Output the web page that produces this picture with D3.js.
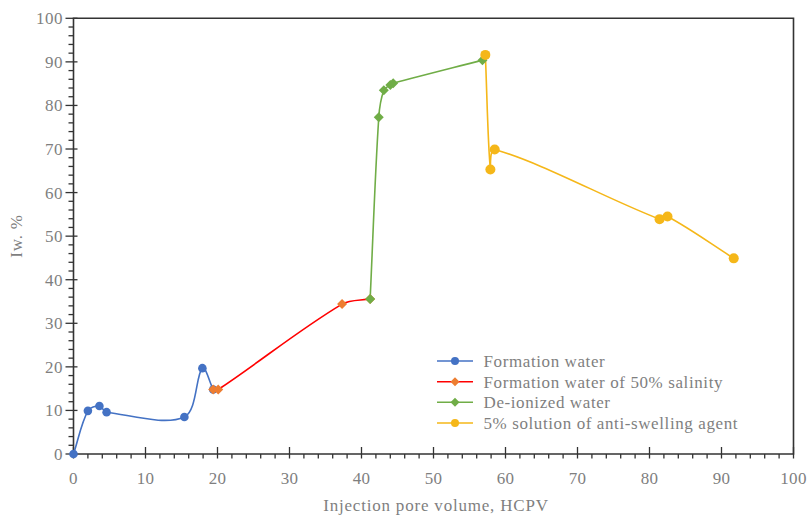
<!DOCTYPE html>
<html>
<head>
<meta charset="utf-8">
<script src="https://cdn.jsdelivr.net/npm/d3@7/dist/d3.min.js"></script>
<style>
  html, body { margin: 0; padding: 0; background: #fff; }
</style>
</head>
<body>
<svg id="chart" width="809" height="516" font-family="'Times New Roman', 'Liberation Serif', Tinos, 'DejaVu Serif', serif"></svg>
<script>
// ---- Data ----
const formationX = [0, 2.0, 3.6, 4.6, 15.4, 17.9, 19.4];
const formationY = [0, 9.9, 11.0, 9.6, 8.5, 19.7, 14.8];

const salinityX = [19.4, 20.1, 37.3, 41.2];
const salinityY = [14.8, 14.8, 34.4, 35.6];

const deionizedX = [41.2, 42.4, 43.1, 44.0, 44.4, 56.8];
const deionizedY = [35.6, 77.3, 83.5, 84.7, 85.1, 90.4];

const antiSwellX = [57.2, 57.9, 58.5, 81.4, 82.5, 91.7];
const antiSwellY = [91.6, 65.3, 69.9, 53.9, 54.5, 44.9];

const seriesNames = ["Formation water", "Formation water of 50% salinity", "De-ionized water", "5% solution of anti-swelling agent"];
const xTicks = [0, 10, 20, 30, 40, 50, 60, 70, 80, 90, 100];
const yTicks = [0, 10, 20, 30, 40, 50, 60, 70, 80, 90, 100];
const xTitle = "Injection pore volume, HCPV";
const yTitle = "Iw. %";

(function () {
const series = [
  { name: seriesNames[0], xs: formationX, ys: formationY, line: "#4472C4", marker: "#4472C4", shape: "circle", r: 4.3 },
  { name: seriesNames[1], xs: salinityX, ys: salinityY, line: "#FF0000", marker: "#ED7D31", shape: "diamond", r: 5 },
  { name: seriesNames[2], xs: deionizedX, ys: deionizedY, line: "#70AD47", marker: "#70AD47", shape: "diamond", r: 5 },
  { name: seriesNames[3], xs: antiSwellX, ys: antiSwellY, line: "#F5B719", marker: "#F5B719", shape: "circle", r: 5 }
];

const svg = d3.select("#chart");
const pL = 73.5, pR = 793.5, pT = 18.3, pB = 454;
const x = d3.scaleLinear().domain([0, 100]).range([pL, pR]);
const y = d3.scaleLinear().domain([0, 100]).range([pB, pT]);

const axisColor = "#333";
const textColor = "#7f7f7f";

const minor = d3.range(0, 101, 2).filter(v => v % 10 !== 0);

// Y axis
const gy = svg.append("g");
gy.selectAll("line.minor").data(minor).join("line").attr("class", "minor")
  .attr("x1", pL - 5).attr("x2", pL)
  .attr("y1", d => y(d)).attr("y2", d => y(d))
  .attr("stroke", axisColor).attr("stroke-width", 1.3);
gy.selectAll("line.major").data(yTicks).join("line").attr("class", "major")
  .attr("x1", pL - 8).attr("x2", pL + 4)
  .attr("y1", d => y(d)).attr("y2", d => y(d))
  .attr("stroke", axisColor).attr("stroke-width", 1.3);
gy.selectAll("text").data(yTicks).join("text")
  .attr("x", pL - 10.5).attr("y", d => y(d)).attr("dy", "0.35em")
  .attr("text-anchor", "end").attr("fill", textColor)
  .style("font-size", "17px").style("letter-spacing", "0.5px")
  .text(d => d);

// X axis
const gx = svg.append("g");
gx.selectAll("line.minor").data(minor).join("line").attr("class", "minor")
  .attr("x1", d => x(d)).attr("x2", d => x(d))
  .attr("y1", pB).attr("y2", pB + 4.5)
  .attr("stroke", axisColor).attr("stroke-width", 1.3);
gx.selectAll("line.major").data(xTicks).join("line").attr("class", "major")
  .attr("x1", d => x(d)).attr("x2", d => x(d))
  .attr("y1", pB - 7).attr("y2", pB + 4.5)
  .attr("stroke", axisColor).attr("stroke-width", 1.3);
gx.selectAll("text").data(xTicks).join("text")
  .attr("x", d => x(d)).attr("y", 484)
  .attr("text-anchor", "middle").attr("fill", textColor)
  .style("font-size", "17px").style("letter-spacing", "0.3px")
  .text(d => d);

// frame
svg.append("path")
  .attr("d", `M${pL},${pB}L${pL},${pT}L${pR},${pT}L${pR},${pB}Z`)
  .attr("fill", "none").attr("stroke", axisColor).attr("stroke-width", 1.6);

// titles
svg.append("text").attr("x", 436).attr("y", 511)
  .attr("text-anchor", "middle").attr("fill", textColor)
  .style("font-size", "17px").style("letter-spacing", "0.8px")
  .text(xTitle);
svg.append("text").attr("transform", `translate(22,236) rotate(-90)`)
  .attr("text-anchor", "middle").attr("fill", textColor)
  .style("font-size", "17px").style("letter-spacing", "0.8px")
  .text(yTitle);

// Excel-like smoothed line: Bezier segments with tangents scaled by neighbouring chord lengths
function smoothPath(pts) {
  const p = d3.path();
  const n = pts.length;
  if (!n) return "";
  const dist = (a, b) => Math.hypot(b[0] - a[0], b[1] - a[1]);
  const P = i => pts[Math.max(0, Math.min(n - 1, i))];
  p.moveTo(pts[0][0], pts[0][1]);
  for (let i = 0; i < n - 1; i++) {
    const p0 = P(i - 1), p1 = P(i), p2 = P(i + 1), p3 = P(i + 2);
    const d01 = dist(p0, p1), d12 = dist(p1, p2), d23 = dist(p2, p3);
    const f1 = (d01 + d12) > 0 ? d12 / (d01 + d12) / 3 : 0;
    const f2 = (d12 + d23) > 0 ? d12 / (d12 + d23) / 3 : 0;
    const c1 = [p1[0] + (p2[0] - p0[0]) * f1, p1[1] + (p2[1] - p0[1]) * f1];
    const c2 = [p2[0] - (p3[0] - p1[0]) * f2, p2[1] - (p3[1] - p1[1]) * f2];
    p.bezierCurveTo(c1[0], c1[1], c2[0], c2[1], p2[0], p2[1]);
  }
  return p.toString();
}

series.forEach(s => {
  const pts = s.xs.map((v, i) => [x(v), y(s.ys[i])]);
  svg.append("path").attr("d", smoothPath(pts))
    .attr("fill", "none").attr("stroke", s.line).attr("stroke-width", 1.6);
});

function drawMarker(g, shape, cx, cy, r, color) {
  if (shape === "circle") {
    g.append("circle").attr("cx", cx).attr("cy", cy).attr("r", r).attr("fill", color);
  } else {
    g.append("path").attr("d", `M${cx},${cy - r}L${cx + r},${cy}L${cx},${cy + r}L${cx - r},${cy}Z`).attr("fill", color);
  }
}

series.forEach(s => {
  const g = svg.append("g");
  s.xs.forEach((v, i) => drawMarker(g, s.shape, x(v), y(s.ys[i]), s.r, s.marker));
});

// legend
const legendY = [361, 381.7, 402.3, 423];
const lg = svg.append("g");
series.forEach((s, i) => {
  const ly = legendY[i];
  lg.append("line").attr("x1", 437).attr("x2", 473).attr("y1", ly).attr("y2", ly)
    .attr("stroke", s.line).attr("stroke-width", 1.6);
  drawMarker(lg, s.shape, 455, ly, s.shape === "circle" ? 4 : 4.5, s.marker);
  lg.append("text").attr("x", 483.5).attr("y", ly).attr("dy", "0.35em")
    .attr("fill", textColor).style("font-size", "17px").style("letter-spacing", "0.6px")
    .text(s.name);
});
})();
</script>
</body>
</html>
